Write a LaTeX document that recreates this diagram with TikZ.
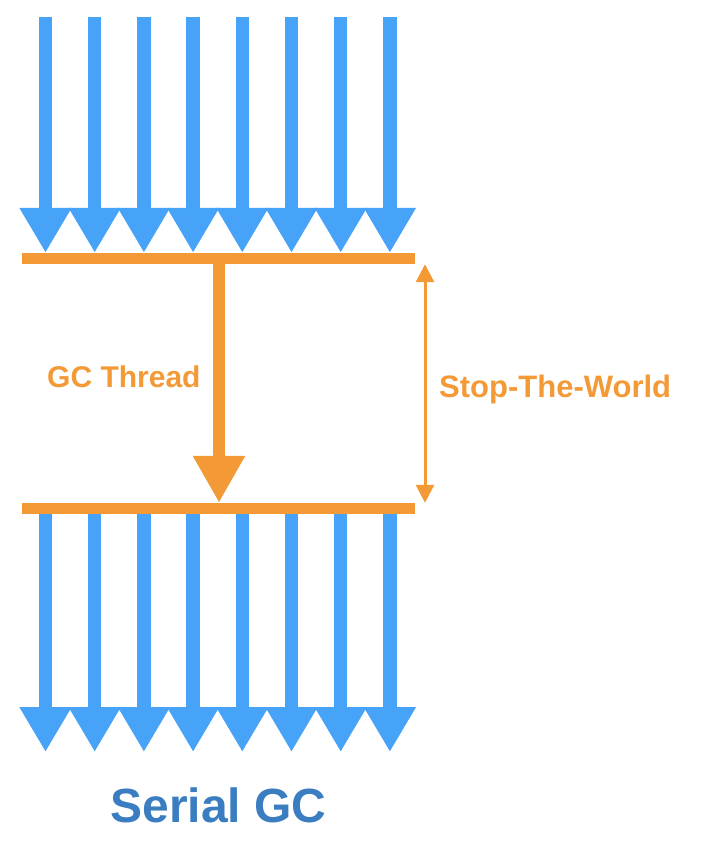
\documentclass[tikz,border=0pt]{standalone}
\usepackage{fontspec}
\setmainfont{Liberation Sans}
\usetikzlibrary{arrows.meta}
\definecolor{thrblue}{HTML}{46A3F7}
\definecolor{gcorange}{HTML}{F39A37}
\definecolor{titleblue}{HTML}{3A7DC0}
\begin{document}
\begin{tikzpicture}[x=1pt,y=-1pt,
  bar/.style={fill=gcorange,inner sep=0pt,minimum width=393pt,minimum height=11pt},
  thread/.style={draw=thrblue,line width=13.5pt,-{Triangle[width=49pt,length=45pt]},fill=thrblue},
  gcarrow/.style={draw=gcorange,line width=12pt,-{Triangle[width=49pt,length=47pt]},fill=gcorange},
  stwarrow/.style={draw=gcorange,line width=3pt,{Triangle[width=18pt,length=18pt]}-{Triangle[width=18pt,length=18pt]}},
  lbl/.style={text=gcorange,font=\bfseries\fontsize{30}{36}\selectfont,inner sep=0pt},
  ttl/.style={text=titleblue,font=\bfseries\fontsize{48}{56}\selectfont,inner sep=0pt}]
\useasboundingbox (0,0) rectangle (702,842);
\node[bar] (topbar) at (218.5,258.5) {};
\node[bar] (botbar) at (218.5,508.5) {};
\foreach \i in {0,...,7}{
  \coordinate (ts\i) at ({45.5+49.2*\i},17);
  \coordinate (bt\i) at ({45.5+49.2*\i},752);
  \draw[thread] (ts\i) -- (topbar.north -| ts\i);
  \draw[thread] (botbar.south -| bt\i) -- (bt\i);
}
\coordinate (gc) at (219,0);
\draw[gcarrow] (topbar.south -| gc) -- (botbar.north -| gc);
\coordinate (stw) at (425,0);
\draw[stwarrow] (topbar.south -| stw) -- (botbar.north -| stw);
\node[lbl,anchor=base west] (gclabel) at (47,387) {GC Thread};
\node[lbl,anchor=base west,font=\bfseries\fontsize{31}{37}\selectfont] (stwlabel) at (439,397) {Stop-The-World};
\node[ttl,anchor=base] (title) at (218.5,822) {Serial GC};
\end{tikzpicture}
\end{document}
